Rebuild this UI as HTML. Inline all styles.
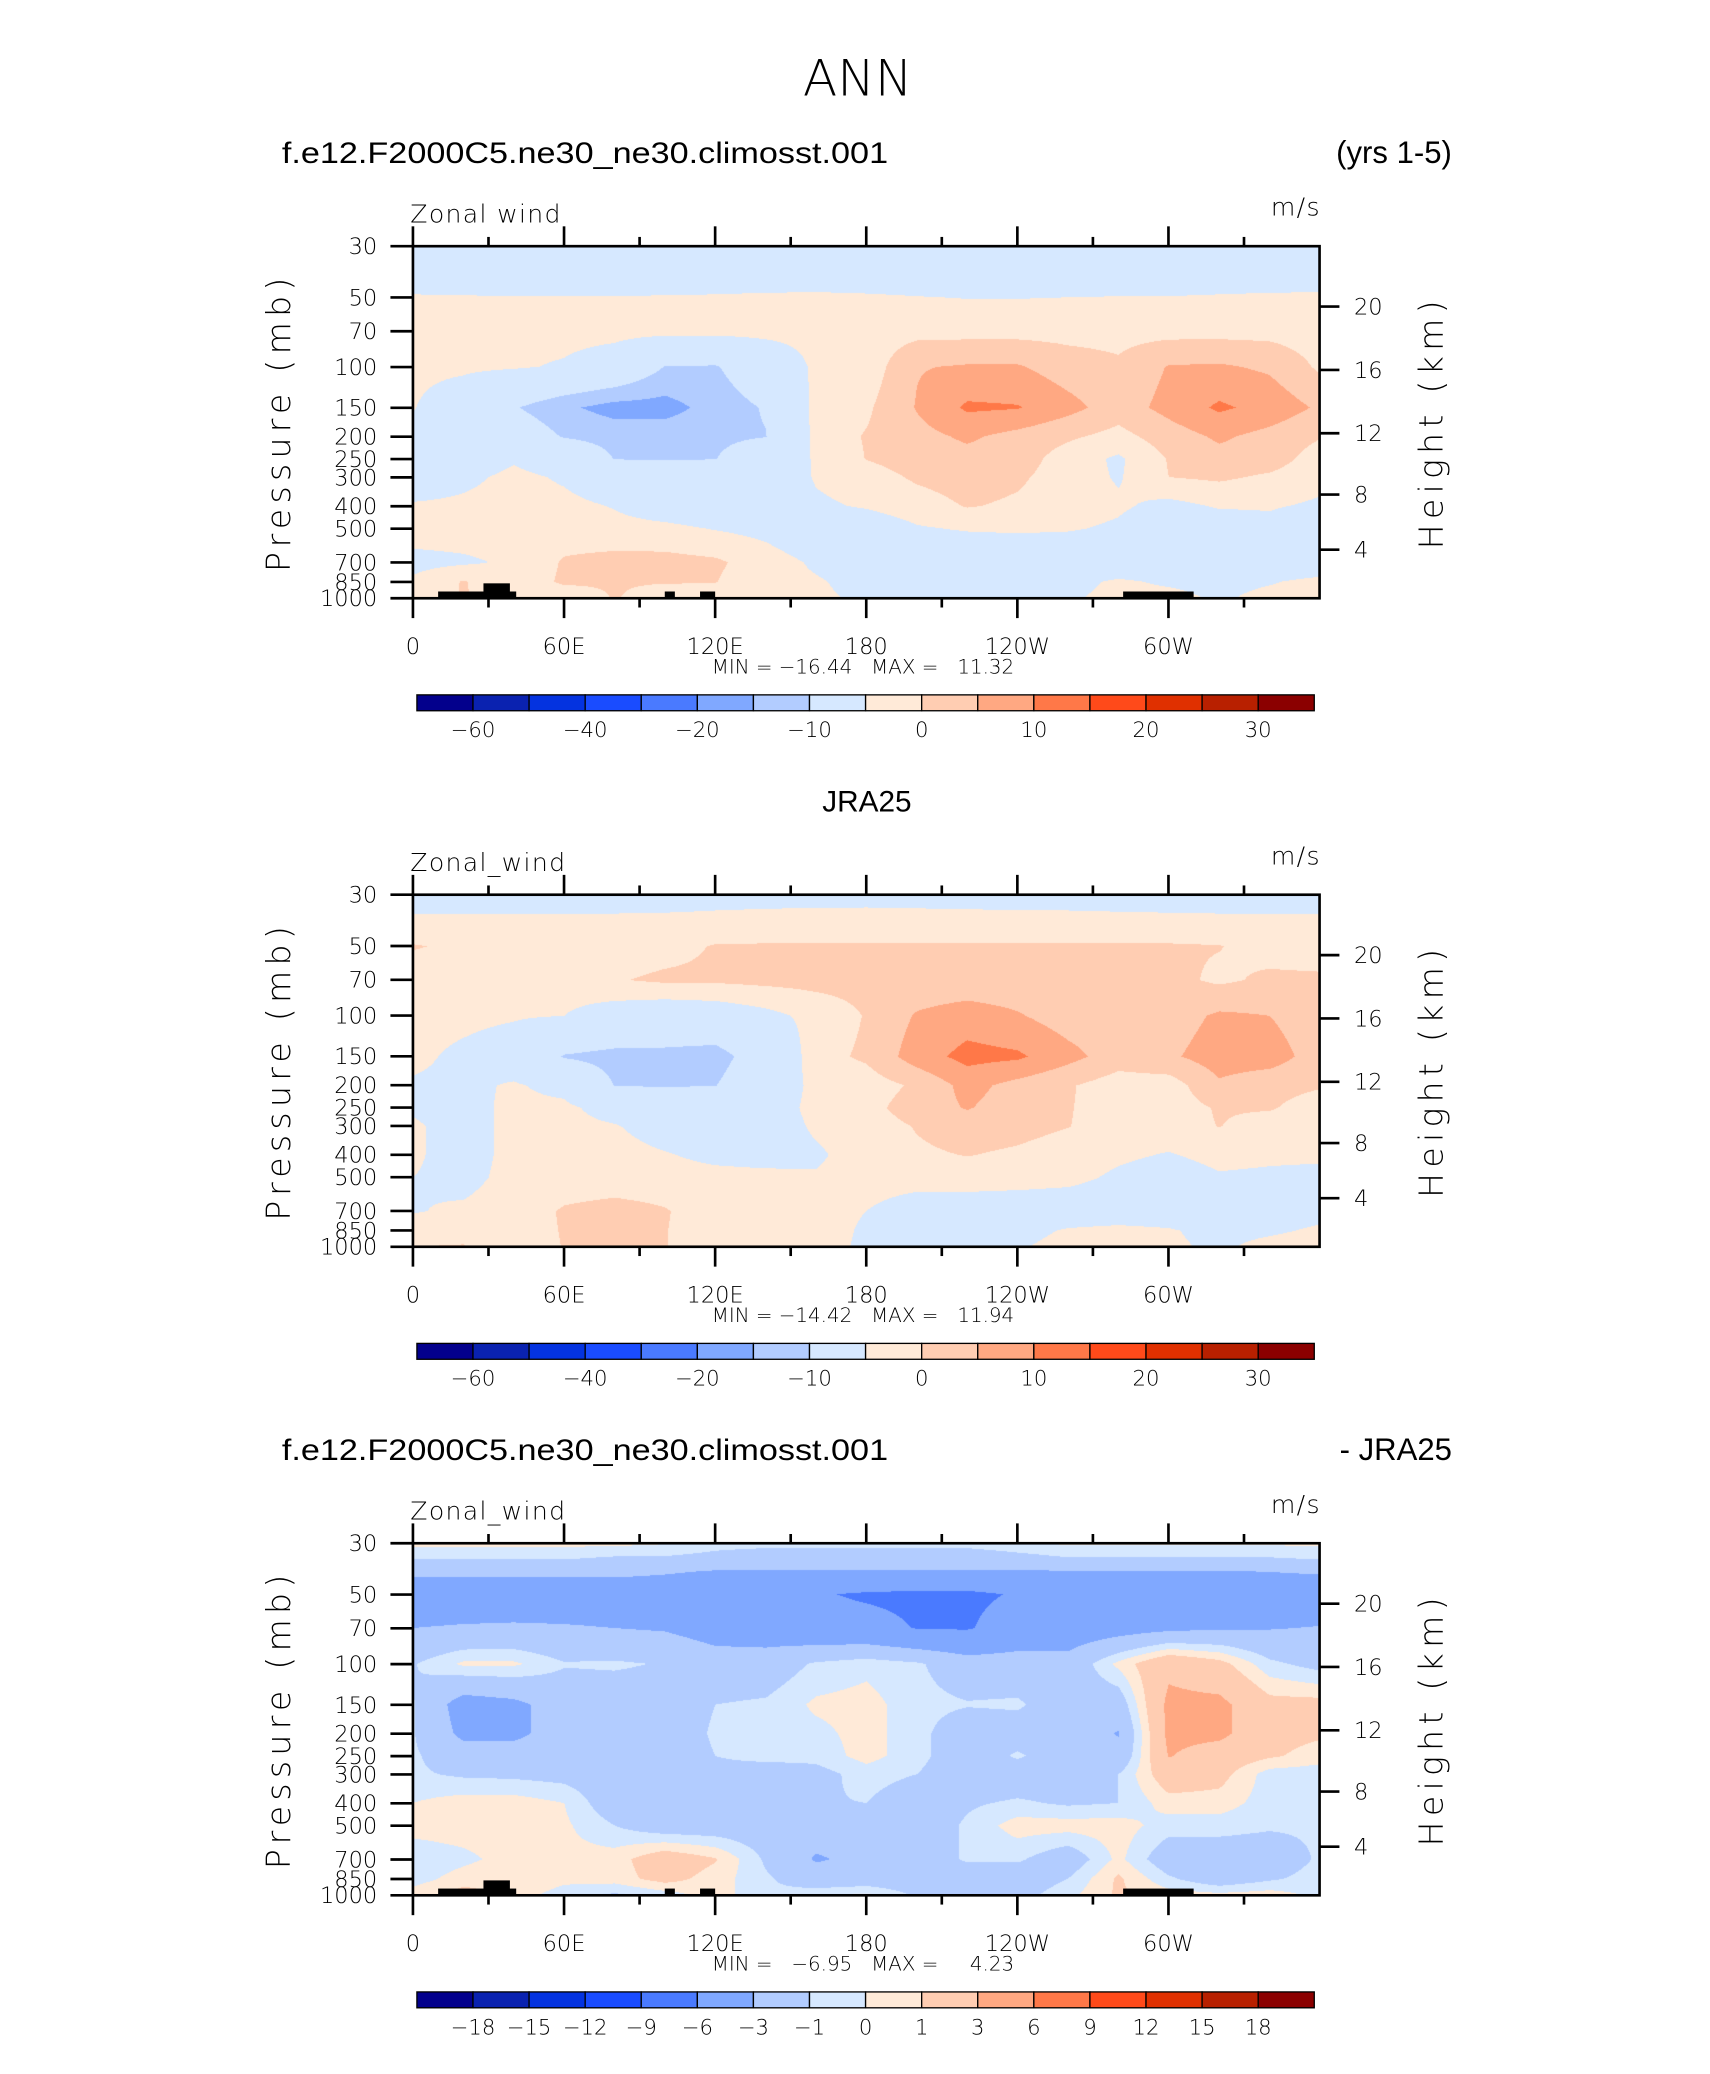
<!DOCTYPE html>
<html><head><meta charset="utf-8">
<style>
html,body{margin:0;padding:0;background:#fff;}
#wrap{position:relative;width:1710px;height:2074px;overflow:hidden;background:#fff;}
canvas{position:absolute;}
svg{position:absolute;left:0;top:0;}
.t{font-family:"DejaVu Sans","Liberation Sans",sans-serif;font-weight:300;fill:#000;white-space:pre;}
.h{font-family:"Liberation Sans",sans-serif;fill:#000;}
</style></head>
<body>
<div id="wrap">
<canvas id="c1"></canvas>
<canvas id="c2"></canvas>
<canvas id="c3"></canvas>
<svg id="svg" width="1710" height="2074" viewBox="0 0 1292 1567">
<text class="t" x="648" y="72" font-size="38" text-anchor="middle">ANN</text>
</svg>
</div>
<script>
// ---------- data ----------
const lons = [0,20,40,60,80,100,120,140,160,180,200,220,240,260,280,300,320,340,360];
const plevs = [30,35,40,50,70,100,150,200,250,300,400,500,700,850,1000];
const pTicks = [30,50,70,100,150,200,250,300,400,500,700,850,1000];
const lonTicks = [0,60,120,180,240,300];
const lonTickLabels = ["0","60E","120E","180","120W","60W"];
const heightTicks = [4,8,12,16,20];
const levelsAbs = [-60,-50,-40,-30,-25,-15,-10,0,3,6,9,15,20,25,30];
const levelsDiff = [-18,-15,-12,-9,-6,-3,-1,0,1,3,6,9,12,15,18];
const cbLabelsAbs = ["−60","−40","−20","−10","0","10","20","30"];
const cbLabelIdxAbs = [1,3,5,7,9,11,13,15];
const cbLabelsDiff = ["−18","−15","−12","−9","−6","−3","−1","0","1","3","6","9","12","15","18"];
const cbLabelIdxDiff = [1,2,3,4,5,6,7,8,9,10,11,12,13,14,15];
const colors = ["#03008c","#0a22b0","#0433e0","#1a4cff","#4a7aff","#80a8ff","#b2ccff","#d6e8ff","#ffead8","#ffcdb2","#ffa882","#ff7848","#ff4a1a","#e03000","#b82000","#8b0000"];
const topoLon0 = [10,28,100,114,282];
const topoLon1 = [41,38.5,104,120,310];
const topoTop = [935,862,935,935,935];

const uModel = [
[-4,-4,-4,-4,-4,-4,-4,-4,-4,-4,-4,-4,-4,-4,-4,-4,-4,-4,-4],
[-3.5,-3.5,-3.5,-3.5,-3.5,-3.5,-3.5,-3.5,-3.5,-3.5,-3.5,-3.5,-3.5,-3.5,-3.5,-3.5,-3.5,-3.5,-3.5],
[-2,-2,-2,-2,-2,-2,-2,-2,-2,-2,-2,-2,-2,-2,-2,-2,-2,-2,-2],
[0.3,0.2,0.1,0.1,0.1,0.2,0.3,0.5,0.6,0.4,0.1,-0.1,-0.1,0,0.1,0.1,0.3,0.5,0.6],
[1.5,1.5,1.5,1.5,1.5,1.5,1.5,1.5,1.5,1.5,2,2,2,2,2,2,2,2,1.5],
[1,0.8,0.5,-0.5,-3,-10.2,-10.5,-5,1,1.2,5.8,6.3,6.3,4.5,3.5,6.2,6.4,5.5,2.5],
[0.2,-3,-9.5,-14,-17,-17,-13,-9.5,1.5,2.5,6.2,9.5,9.2,7,4.5,7,9.5,8,5.5],
[-1,-3,-5,-10.5,-12,-12,-11.5,-10.2,1.5,3.2,5,6.5,5,3.5,2,4.5,6.5,5,3.2],
[-2,-3,-0.5,-3,-10.2,-10.5,-10.2,-4,0.5,3.1,4.5,5,4.5,1.5,-0.5,3.2,5,4.5,1.5],
[-3,-1,1,-0.5,-3,-3.5,-3,-3,0.3,1.5,3.5,4.5,3.5,1.5,-0.3,3,3.5,2.5,1],
[0.5,0.8,1.5,1,-0.2,-2,-3,-3,-0.5,0.3,1.5,3.2,2.5,1.5,0.5,-1,0.3,0.3,-0.5],
[1.5,1.5,1.5,1.5,1,0.8,-0.2,-1,-3,-2,-0.3,0.3,0.5,0.3,-0.5,-3,-2,-1,-3],
[-1,-0.5,0.5,3.3,4,4,3.5,1.5,-0.5,-2,-3,-3,-3,-3,-3,-3,-3,-3,-3],
[0.5,3.2,1,3.5,3.3,3.2,3.1,1,0.3,-1,-3,-4,-3,-1,0.5,-0.5,-1,-0.3,1],
[1.5,3.2,1.5,1,3.2,1.5,2,1,0.5,-0.5,-2,-2,-2,-0.5,1,1,-0.5,1,1.5]
];
const uObs = [
[-2.5,-2.5,-2.5,-2.5,-2.5,-2.5,-2.5,-2.5,-2.5,-2.5,-2.5,-2.5,-2.5,-2.5,-2.5,-2.5,-2.5,-2.5,-2.5],
[-0.4,-0.4,-0.3,-0.3,-0.3,-0.2,0,0.3,0.5,0.6,0.4,0.2,0.1,0,-0.1,-0.2,-0.3,-0.3,-0.3],
[1,1,1,1,1,1,1,1,1,1,1,1,1,1,1,1,1,1,1],
[3.2,2.5,1.5,1.5,1.5,2,3.2,3.3,3.3,3.3,3.3,3.3,3.3,3.3,3.3,3.3,3.1,2,1.5],
[1.5,1.5,1.5,1.5,2.8,3.5,3.5,3.8,4,4,4,4,4,4,4,3.8,2.5,3.5,3.5],
[1.5,1.2,0.5,0,-2,-3,-2.5,-1,1,3.2,6.3,7.5,6.3,4.5,4,4.5,6.5,6,4],
[1,-1,-3,-10.5,-12,-12,-13,-5,2,3.5,7.5,10,9.5,7,4.5,5.5,7.5,7.5,4.5],
[-0.5,-1,0.5,-1.5,-10.2,-10.5,-10.2,-3,1,1.5,3.5,7,5,3.3,1.5,1.5,5.5,4,3.3],
[-0.5,-1.5,1,1,-2,-3,-3,-2,1,2,4.5,6.2,4.5,3.2,1.5,1.5,3.3,3.3,1.5],
[0.5,-1.5,1,1.2,0.3,-2,-3,-2,0.5,1.5,3.2,4.5,4,3.1,1.5,1.5,3.1,1.5,1.5],
[0.5,-1.5,1,1.5,1.5,0.3,-1,-1.5,-0.5,1.5,2.5,3.1,2.5,1.5,0.5,-0.2,0.8,0.5,0.5],
[0,-1,1,1.5,1.5,1.5,1.2,1,0.3,1.5,1.5,1.5,1.2,0.8,-0.5,-1.5,-0.3,-0.5,-0.8],
[-0.2,0.5,1.5,3.3,4,3.2,1.5,1.5,1.2,0,-2,-2,-2,-2,-2,-2,-2,-2,-1],
[1.5,2.5,1.5,3.2,3.5,3.1,1.5,1.5,1.5,-0.5,-2,-2,-1,0.3,0.8,0.3,-1,-0.5,0.5],
[3.1,3.1,1.5,3.1,3.3,3.1,1.5,1.5,1,-0.5,-1,-1,-0.3,1,1.5,0.5,-0.5,1,1.5]
];
const uDiff = [
[0.3,0.3,0.3,0.3,0.3,0.1,-0.5,-0.5,-0.5,-0.5,-0.5,-0.5,-0.2,0.2,0.2,0.2,0.2,0.2,0.2],
[-0.9,-0.9,-0.9,-0.9,-1.2,-1.2,-1.5,-2,-2,-2,-2,-2,-1.5,-1.1,-1.1,-1.1,-1.1,-1.1,-0.9],
[-2.5,-2.5,-2.5,-2.5,-2.5,-2.8,-3.2,-3.2,-3.2,-3.2,-3.2,-3.2,-3.2,-3.2,-3.2,-3.2,-3.2,-3,-2.8],
[-4.5,-4.5,-4.5,-4.5,-4.5,-4.5,-4.5,-4.5,-5.8,-6.3,-6.5,-6.5,-5.8,-4.5,-4.5,-4.5,-4.5,-4.5,-4.5],
[-3,-2.8,-2.7,-2.8,-3,-3.2,-4,-4.2,-5,-5.2,-6.1,-6.2,-4.8,-4.5,-4,-3.5,-3.2,-3.1,-2.9],
[-1.1,0.2,0.2,-0.9,-0.8,-1.1,-2,-2,-0.8,-0.3,-0.8,-2,-2,-2.2,0.3,2.5,1.5,-0.7,-1.5],
[-0.9,-4,-3.5,-2,-2,-2,-1,-0.8,0.2,0.4,-0.6,-0.9,-0.8,-2,-2,3.5,3.5,1.5,1.5],
[-0.9,-3.5,-3.5,-2,-2,-2,-0.8,-0.5,-0.3,0.4,-0.6,-2,-1.8,-2,-3.1,3.5,3.5,1.5,1.2],
[-0.8,-2,-2,-2,-2,-2,-1,-0.5,-0.6,0.4,-0.6,-2,-0.8,-2,-2.5,3.1,2,1.2,0.5],
[-0.8,-1.2,-1.3,-1.5,-2,-2,-1.5,-2,-1.5,-0.5,-1,-2,-2,-2,-1,2,1.5,-0.5,-0.6],
[0,0.5,0.5,0,-2,-2,-2,-2,-1.1,-1,-2,-1.2,-0.8,-1.2,-1,0.5,0.5,-0.5,-0.8],
[0.5,0.6,0.5,0.2,-1,-2,-2,-2,-2,-2,-2,-0.8,0.5,0.5,0.5,-0.5,-0.5,-0.8,-0.8],
[-0.8,-0.3,0.5,0.3,0.5,2,1.1,-1.2,-3.2,-2.5,-2,-0.8,-0.8,-2,0.3,-2,-2,-2,-0.8],
[-0.5,0.5,1,0.3,0.5,1.5,0.5,-0.8,-2,-2,-2,-2,-2,-1,1.2,-0.8,-2,-1.2,-0.5],
[0.5,1.5,0.5,-0.5,-1.2,-0.5,0.5,-0.8,-0.3,0.2,-1.2,-2,-1.5,-0.3,1.2,0.5,0.3,0.5,-0.3]
];

// ---------- geometry (display units, viewBox 1292x1567) ----------
const S = 1710/1292;
const X0 = 312, X1 = 997, PH = 266;
const panelTops = [186, 676, 1166];
function xOf(lon){ return X0 + lon/360*(X1-X0); }
function fyOf(p){ return Math.log(p/30)/Math.log(1000/30); }
function yOf(p, top){ return top + fyOf(p)*PH; }
function pOfZ(zkm){ const z=zkm*1000; return z<=11000 ? 1013.25*Math.pow(1-2.25577e-5*z,5.25588) : 226.32*Math.exp(-(z-11000)/6341.6); }

function hex2rgb(h){ return [parseInt(h.substr(1,2),16),parseInt(h.substr(3,2),16),parseInt(h.substr(5,2),16)]; }
const rgb = colors.map(hex2rgb);

function drawField(cid, data, levels, top){
  const c = document.getElementById(cid);
  const L = X0*S, T = top*S, W = Math.round((X1-X0)*S), H = Math.round(PH*S);
  c.width = W; c.height = H;
  c.style.left = L+'px'; c.style.top = T+'px';
  c.style.width = W+'px'; c.style.height = H+'px';
  const ctx = c.getContext('2d');
  const img = ctx.createImageData(W,H);
  const yf = plevs.map(fyOf);
  for(let py=0; py<H; py++){
    const fy=(py+0.5)/H;
    let j=0; while(j<plevs.length-2 && fy>yf[j+1]) j++;
    const t=Math.min(1,Math.max(0,(fy-yf[j])/(yf[j+1]-yf[j])));
    for(let px=0; px<W; px++){
      const lon=(px+0.5)/W*360;
      let i=Math.min(lons.length-2, Math.floor(lon/20));
      const s=(lon-lons[i])/(lons[i+1]-lons[i]);
      const v=(1-t)*((1-s)*data[j][i]+s*data[j][i+1]) + t*((1-s)*data[j+1][i]+s*data[j+1][i+1]);
      let k=0; while(k<levels.length && levels[k]<=v) k++;
      const col=rgb[k]; const o=(py*W+px)*4;
      img.data[o]=col[0]; img.data[o+1]=col[1]; img.data[o+2]=col[2]; img.data[o+3]=255;
    }
  }
  ctx.putImageData(img,0,0);
}

const svg = document.getElementById('svg');
const NS='http://www.w3.org/2000/svg';
function mk(tag, attrs, text){
  const e=document.createElementNS(NS,tag);
  for(const k in attrs) e.setAttribute(k, attrs[k]);
  if(text!==undefined) e.textContent=text;
  svg.appendChild(e); return e;
}

function drawPanel(idx, top, data, levels, opts){
  drawField('c'+(idx+1), data, levels, top);
  let e;
  if(opts.left){ e=mk('text',{class:'h',x:213,y:top-63,'font-size':22.5,textLength:opts.leftLen,lengthAdjust:'spacingAndGlyphs'},opts.left);
      }
  if(opts.right){ e=mk('text',{class:'h',x:1097,y:top-63,'font-size':23.5,'text-anchor':'end'},opts.right);
      }
  if(opts.center){ e=mk('text',{class:'h',x:655,y:top-63,'font-size':22.5,'text-anchor':'middle'},opts.center);
      }
  e=mk('text',{class:'t',x:310,y:top-18,'font-size':19,'letter-spacing':1},opts.varname);
   
  e=mk('text',{class:'t',x:998,y:top-23,'font-size':19,'text-anchor':'end','letter-spacing':1},'m/s');
   
  if(opts.topo){
    for(let k=0;k<topoLon0.length;k++){
      const y=yOf(topoTop[k],top);
      e=mk('rect',{x:xOf(topoLon0[k]),y:y,width:xOf(topoLon1[k])-xOf(topoLon0[k]),height:top+PH-y,fill:'#000'});
       
    }
  }
  e=mk('rect',{x:X0,y:top,width:X1-X0,height:PH,fill:'none',stroke:'#000','stroke-width':2});
   
  for(const p of pTicks){
    const y=yOf(p,top);
    e=mk('line',{x1:X0-17,y1:y,x2:X0,y2:y,stroke:'#000','stroke-width':2});
     
    e=mk('text',{class:'t',x:285,y:y+6,'font-size':17,'text-anchor':'end'},String(p));
     
  }
  e=mk('text',{class:'t',x:0,y:0,'font-size':25,'text-anchor':'middle','letter-spacing':4,transform:'translate(219,'+(top+133)+') rotate(-90)'},'Pressure (mb)');
   
  for(const z of heightTicks){
    const y=yOf(pOfZ(z),top);
    e=mk('line',{x1:X1,y1:y,x2:X1+15,y2:y,stroke:'#000','stroke-width':2});
     
    e=mk('text',{class:'t',x:1023,y:y+6,'font-size':17},String(z));
     
  }
  e=mk('text',{class:'t',x:0,y:0,'font-size':25,'text-anchor':'middle','letter-spacing':4,transform:'translate(1090,'+(top+133)+') rotate(-90)'},'Height (km)');
   
  for(let l=0;l<360;l+=30){
    const x=xOf(l), major=(l%60===0), len=major?15:7;
    e=mk('line',{x1:x,y1:top-len,x2:x,y2:top,stroke:'#000','stroke-width':2});
     
    e=mk('line',{x1:x,y1:top+PH,x2:x,y2:top+PH+len,stroke:'#000','stroke-width':2});
     
  }
  lonTicks.forEach((l,k)=>{
    e=mk('text',{class:'t',x:xOf(l),y:top+PH+42,'font-size':17,'text-anchor':'middle'},lonTickLabels[k]);
     
  });
  e=mk('text',{class:'t',x:652,y:top+PH+57,'font-size':15,'text-anchor':'middle'},opts.minmax);
   
  const cbL=315, cbR=993, cbT=top+339, cbH=12, bw=(cbR-cbL)/16;
  for(let k=0;k<16;k++){
    e=mk('rect',{x:cbL+k*bw,y:cbT,width:bw,height:cbH,fill:colors[k],stroke:'#000','stroke-width':1});
     
  }
  opts.cbLabels.forEach((lab,k)=>{
    e=mk('text',{class:'t',x:cbL+opts.cbIdx[k]*bw,y:cbT+32,'font-size':16,'text-anchor':'middle'},lab);
     
  });
}

drawPanel(0, panelTops[0], uModel, levelsAbs, {left:'f.e12.F2000C5.ne30_ne30.climosst.001', leftLen:458, right:'(yrs 1-5)', varname:'Zonal wind', topo:true, minmax:'MIN = −16.44   MAX =   11.32', cbLabels:cbLabelsAbs, cbIdx:cbLabelIdxAbs});
drawPanel(1, panelTops[1], uObs, levelsAbs, {center:'JRA25', varname:'Zonal_wind', topo:false, minmax:'MIN = −14.42   MAX =   11.94', cbLabels:cbLabelsAbs, cbIdx:cbLabelIdxAbs});
drawPanel(2, panelTops[2], uDiff, levelsDiff, {left:'f.e12.F2000C5.ne30_ne30.climosst.001', leftLen:458, right:'- JRA25', varname:'Zonal_wind', topo:true, minmax:'MIN =   −6.95   MAX =     4.23', cbLabels:cbLabelsDiff, cbIdx:cbLabelIdxDiff});
</script>
</body></html>
